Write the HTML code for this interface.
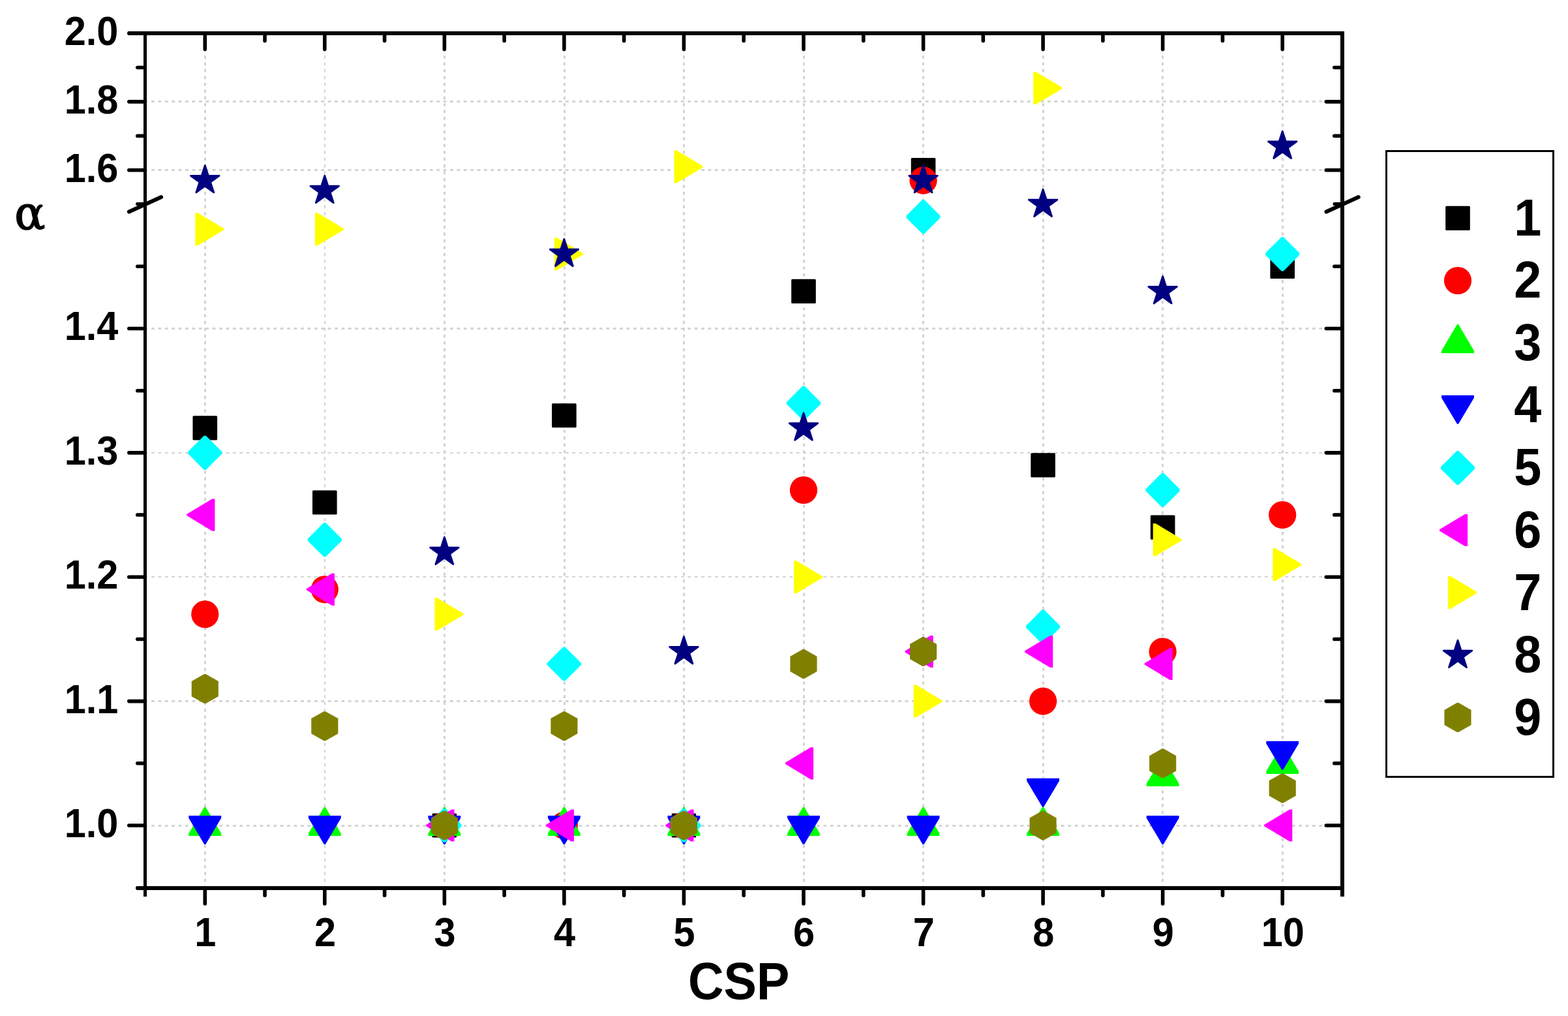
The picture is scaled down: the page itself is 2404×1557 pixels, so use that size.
<!DOCTYPE html>
<html lang="en">
<head>
<meta charset="utf-8">
<title>α vs CSP</title>
<style>
html,body{margin:0;padding:0;background:#fff;}
body{width:2404px;height:1557px;overflow:hidden;}
svg{display:block;}
</style>
</head>
<body>
<svg width="2404" height="1557" viewBox="0 0 2404 1557">
<rect x="0" y="0" width="2404" height="1557" fill="#fff"/>
<g stroke="#d3d3d3" fill="none">
<g stroke-dasharray="4.7 5.726">
<line x1="314.5" y1="85.2" x2="314.5" y2="1358" stroke-width="3"/>
<line x1="498" y1="85.2" x2="498" y2="1358" stroke-width="2"/>
<line x1="681.5" y1="85.2" x2="681.5" y2="1358" stroke-width="3"/>
<line x1="865.5" y1="85.2" x2="865.5" y2="1358" stroke-width="3"/>
<line x1="1048.5" y1="85.2" x2="1048.5" y2="1358" stroke-width="3"/>
<line x1="1232.5" y1="85.2" x2="1232.5" y2="1358" stroke-width="3"/>
<line x1="1415.5" y1="85.2" x2="1415.5" y2="1358" stroke-width="3"/>
<line x1="1599.5" y1="85.2" x2="1599.5" y2="1358" stroke-width="3"/>
<line x1="1782.5" y1="85.2" x2="1782.5" y2="1358" stroke-width="3"/>
<line x1="1966.5" y1="85.2" x2="1966.5" y2="1358" stroke-width="3"/>
</g>
<g stroke-dasharray="4.7 5.709">
<line x1="221.68" y1="1265.5" x2="2030" y2="1265.5" stroke-width="3"/>
<line x1="221.68" y1="1074.5" x2="2030" y2="1074.5" stroke-width="3"/>
<line x1="221.68" y1="884" x2="2030" y2="884" stroke-width="2"/>
<line x1="221.68" y1="694" x2="2030" y2="694" stroke-width="2"/>
<line x1="221.68" y1="503.5" x2="2030" y2="503.5" stroke-width="3"/>
<line x1="221.68" y1="260.5" x2="2030" y2="260.5" stroke-width="3"/>
<line x1="221.68" y1="155.5" x2="2030" y2="155.5" stroke-width="3"/>
</g>
</g>
<g>
<rect x="295.47" y="637.2" width="37.6" height="37.2" rx="1.5" fill="#000000"/>
<rect x="479.02" y="751.42" width="37.6" height="37.2" rx="1.5" fill="#000000"/>
<rect x="662.58" y="1246.4" width="37.6" height="37.2" rx="1.5" fill="#000000"/>
<rect x="846.12" y="618.16" width="37.6" height="37.2" rx="1.5" fill="#000000"/>
<rect x="1029.67" y="1246.4" width="37.6" height="37.2" rx="1.5" fill="#000000"/>
<rect x="1213.23" y="427.79" width="37.6" height="37.2" rx="1.5" fill="#000000"/>
<rect x="1396.78" y="242.1" width="37.6" height="37.2" rx="1.5" fill="#000000"/>
<rect x="1580.33" y="694.31" width="37.6" height="37.2" rx="1.5" fill="#000000"/>
<rect x="1763.88" y="789.5" width="37.6" height="37.2" rx="1.5" fill="#000000"/>
<rect x="1947.42" y="389.71" width="37.6" height="37.2" rx="1.5" fill="#000000"/>
<circle cx="314.27" cy="941.36" r="21.1" fill="#ff0000"/>
<circle cx="497.82" cy="903.29" r="21.1" fill="#ff0000"/>
<circle cx="681.38" cy="1265" r="21.1" fill="#ff0000"/>
<circle cx="864.92" cy="1265" r="21.1" fill="#ff0000"/>
<circle cx="1048.47" cy="1265" r="21.1" fill="#ff0000"/>
<circle cx="1232.03" cy="750.99" r="21.1" fill="#ff0000"/>
<circle cx="1415.58" cy="276.43" r="21.1" fill="#ff0000"/>
<circle cx="1599.12" cy="1074.62" r="21.1" fill="#ff0000"/>
<circle cx="1782.67" cy="998.48" r="21.1" fill="#ff0000"/>
<circle cx="1966.22" cy="789.06" r="21.1" fill="#ff0000"/>
<polygon points="313.27,1236.8 315.27,1236.8 339.17,1277.2 339.17,1281.1 289.38,1281.1 289.38,1277.2" fill="#00ff00"/>
<polygon points="496.82,1236.8 498.82,1236.8 522.73,1277.2 522.73,1281.1 472.93,1281.1 472.93,1277.2" fill="#00ff00"/>
<polygon points="680.38,1236.8 682.38,1236.8 706.27,1277.2 706.27,1281.1 656.48,1281.1 656.48,1277.2" fill="#00ff00"/>
<polygon points="863.92,1236.8 865.92,1236.8 889.82,1277.2 889.82,1281.1 840.02,1281.1 840.02,1277.2" fill="#00ff00"/>
<polygon points="1047.47,1236.8 1049.47,1236.8 1073.38,1277.2 1073.38,1281.1 1023.57,1281.1 1023.57,1277.2" fill="#00ff00"/>
<polygon points="1231.03,1236.8 1233.03,1236.8 1256.93,1277.2 1256.93,1281.1 1207.12,1281.1 1207.12,1277.2" fill="#00ff00"/>
<polygon points="1414.58,1236.8 1416.58,1236.8 1440.48,1277.2 1440.48,1281.1 1390.67,1281.1 1390.67,1277.2" fill="#00ff00"/>
<polygon points="1598.12,1236.8 1600.12,1236.8 1624.03,1277.2 1624.03,1281.1 1574.22,1281.1 1574.22,1277.2" fill="#00ff00"/>
<polygon points="1781.67,1160.65 1783.67,1160.65 1807.58,1201.05 1807.58,1204.95 1757.77,1204.95 1757.77,1201.05" fill="#00ff00"/>
<polygon points="1965.22,1141.61 1967.22,1141.61 1991.12,1182.01 1991.12,1185.91 1941.32,1185.91 1941.32,1182.01" fill="#00ff00"/>
<polygon points="313.27,1293.9 315.27,1293.9 339.17,1253.8 339.17,1249.9 289.38,1249.9 289.38,1253.8" fill="#0000ff"/>
<polygon points="496.82,1293.9 498.82,1293.9 522.73,1253.8 522.73,1249.9 472.93,1249.9 472.93,1253.8" fill="#0000ff"/>
<polygon points="680.38,1293.9 682.38,1293.9 706.27,1253.8 706.27,1249.9 656.48,1249.9 656.48,1253.8" fill="#0000ff"/>
<polygon points="863.92,1293.9 865.92,1293.9 889.82,1253.8 889.82,1249.9 840.02,1249.9 840.02,1253.8" fill="#0000ff"/>
<polygon points="1047.47,1293.9 1049.47,1293.9 1073.38,1253.8 1073.38,1249.9 1023.57,1249.9 1023.57,1253.8" fill="#0000ff"/>
<polygon points="1231.03,1293.9 1233.03,1293.9 1256.93,1253.8 1256.93,1249.9 1207.12,1249.9 1207.12,1253.8" fill="#0000ff"/>
<polygon points="1414.58,1293.9 1416.58,1293.9 1440.48,1253.8 1440.48,1249.9 1390.67,1249.9 1390.67,1253.8" fill="#0000ff"/>
<polygon points="1598.12,1236.79 1600.12,1236.79 1624.03,1196.69 1624.03,1192.79 1574.22,1192.79 1574.22,1196.69" fill="#0000ff"/>
<polygon points="1781.67,1293.9 1783.67,1293.9 1807.58,1253.8 1807.58,1249.9 1757.77,1249.9 1757.77,1253.8" fill="#0000ff"/>
<polygon points="1965.22,1179.67 1967.22,1179.67 1991.12,1139.57 1991.12,1135.67 1941.32,1135.67 1941.32,1139.57" fill="#0000ff"/>
<polygon points="312.77,667.77 315.77,667.77 340.38,692.37 340.38,695.37 315.77,719.97 312.77,719.97 288.17,695.37 288.17,692.37" fill="#00ffff"/>
<polygon points="496.32,801.04 499.32,801.04 523.92,825.64 523.92,828.64 499.32,853.24 496.32,853.24 471.72,828.64 471.72,825.64" fill="#00ffff"/>
<polygon points="679.88,1238.9 682.88,1238.9 707.48,1263.5 707.48,1266.5 682.88,1291.1 679.88,1291.1 655.27,1266.5 655.27,1263.5" fill="#00ffff"/>
<polygon points="863.42,991.41 866.42,991.41 891.02,1016.01 891.02,1019.01 866.42,1043.61 863.42,1043.61 838.82,1019.01 838.82,1016.01" fill="#00ffff"/>
<polygon points="1046.97,1238.9 1049.97,1238.9 1074.57,1263.5 1074.57,1266.5 1049.97,1291.1 1046.97,1291.1 1022.37,1266.5 1022.37,1263.5" fill="#00ffff"/>
<polygon points="1230.53,591.62 1233.53,591.62 1258.12,616.22 1258.12,619.22 1233.53,643.82 1230.53,643.82 1205.93,619.22 1205.93,616.22" fill="#00ffff"/>
<polygon points="1414.08,306.06 1417.08,306.06 1441.67,330.66 1441.67,333.66 1417.08,358.26 1414.08,358.26 1389.48,333.66 1389.48,330.66" fill="#00ffff"/>
<polygon points="1597.62,934.3 1600.62,934.3 1625.22,958.9 1625.22,961.9 1600.62,986.5 1597.62,986.5 1573.03,961.9 1573.03,958.9" fill="#00ffff"/>
<polygon points="1781.17,724.89 1784.17,724.89 1808.77,749.49 1808.77,752.49 1784.17,777.09 1781.17,777.09 1756.58,752.49 1756.58,749.49" fill="#00ffff"/>
<polygon points="1964.72,363.18 1967.72,363.18 1992.32,387.78 1992.32,390.78 1967.72,415.38 1964.72,415.38 1940.12,390.78 1940.12,387.78" fill="#00ffff"/>
<polygon points="286.17,788.06 286.17,790.06 325.27,813.66 329.38,813.66 329.38,764.46 325.27,764.46" fill="#ff00ff"/>
<polygon points="469.72,902.29 469.72,904.29 508.82,927.89 512.92,927.89 512.92,878.69 508.82,878.69" fill="#ff00ff"/>
<polygon points="653.27,1264 653.27,1266 692.38,1289.6 696.48,1289.6 696.48,1240.4 692.38,1240.4" fill="#ff00ff"/>
<polygon points="836.82,1264 836.82,1266 875.92,1289.6 880.02,1289.6 880.02,1240.4 875.92,1240.4" fill="#ff00ff"/>
<polygon points="1020.37,1264 1020.37,1266 1059.47,1289.6 1063.57,1289.6 1063.57,1240.4 1059.47,1240.4" fill="#ff00ff"/>
<polygon points="1203.93,1168.81 1203.93,1170.81 1243.03,1194.41 1247.12,1194.41 1247.12,1145.21 1243.03,1145.21" fill="#ff00ff"/>
<polygon points="1387.48,997.48 1387.48,999.48 1426.58,1023.08 1430.67,1023.08 1430.67,973.88 1426.58,973.88" fill="#ff00ff"/>
<polygon points="1571.03,997.48 1571.03,999.48 1610.12,1023.08 1614.22,1023.08 1614.22,973.88 1610.12,973.88" fill="#ff00ff"/>
<polygon points="1754.58,1016.51 1754.58,1018.51 1793.67,1042.11 1797.77,1042.11 1797.77,992.91 1793.67,992.91" fill="#ff00ff"/>
<polygon points="1938.12,1264 1938.12,1266 1977.22,1289.6 1981.32,1289.6 1981.32,1240.4 1977.22,1240.4" fill="#ff00ff"/>
<polygon points="343.47,350.2 343.47,352.2 303.27,376.2 299.38,376.2 299.38,326.2 303.27,326.2" fill="#ffff00"/>
<polygon points="527.02,350.2 527.02,352.2 486.82,376.2 482.93,376.2 482.93,326.2 486.82,326.2" fill="#ffff00"/>
<polygon points="710.58,940.36 710.58,942.36 670.38,966.36 666.48,966.36 666.48,916.36 670.38,916.36" fill="#ffff00"/>
<polygon points="894.12,388.28 894.12,390.28 853.92,414.28 850.02,414.28 850.02,364.28 853.92,364.28" fill="#ffff00"/>
<polygon points="1077.67,254.46 1077.67,256.46 1037.47,280.46 1033.57,280.46 1033.57,230.46 1037.47,230.46" fill="#ffff00"/>
<polygon points="1261.23,883.25 1261.23,885.25 1221.03,909.25 1217.12,909.25 1217.12,859.25 1221.03,859.25" fill="#ffff00"/>
<polygon points="1444.78,1073.62 1444.78,1075.62 1404.58,1099.62 1400.67,1099.62 1400.67,1049.62 1404.58,1049.62" fill="#ffff00"/>
<polygon points="1628.33,133.88 1628.33,135.88 1588.12,159.88 1584.22,159.88 1584.22,109.88 1588.12,109.88" fill="#ffff00"/>
<polygon points="1811.88,826.14 1811.88,828.14 1771.67,852.14 1767.77,852.14 1767.77,802.14 1771.67,802.14" fill="#ffff00"/>
<polygon points="1995.42,864.21 1995.42,866.21 1955.22,890.21 1951.32,890.21 1951.32,840.21 1955.22,840.21" fill="#ffff00"/>
<polygon points="314.27,253.53 319.42,269.35 336.05,269.35 322.6,279.13 327.74,294.95 314.27,285.18 300.81,294.95 305.95,279.13 292.5,269.35 309.13,269.35" fill="#000080" stroke="#000080" stroke-width="2.8" stroke-linejoin="round"/>
<polygon points="497.82,269.25 502.97,285.08 519.6,285.08 506.15,294.86 511.29,310.68 497.82,300.9 484.36,310.68 489.5,294.86 476.05,285.08 492.68,285.08" fill="#000080" stroke="#000080" stroke-width="2.8" stroke-linejoin="round"/>
<polygon points="681.38,823.28 686.52,839.1 703.15,839.1 689.7,848.88 694.84,864.7 681.38,854.93 667.91,864.7 673.05,848.88 659.6,839.1 676.23,839.1" fill="#000080" stroke="#000080" stroke-width="2.8" stroke-linejoin="round"/>
<polygon points="864.92,366.38 870.07,382.2 886.7,382.2 873.25,391.98 878.39,407.8 864.92,398.03 851.46,407.8 856.6,391.98 843.15,382.2 859.78,382.2" fill="#000080" stroke="#000080" stroke-width="2.8" stroke-linejoin="round"/>
<polygon points="1048.47,975.58 1053.62,991.4 1070.25,991.4 1056.8,1001.18 1061.94,1017 1048.47,1007.23 1035.01,1017 1040.15,1001.18 1026.7,991.4 1043.33,991.4" fill="#000080" stroke="#000080" stroke-width="2.8" stroke-linejoin="round"/>
<polygon points="1232.03,632.9 1237.17,648.72 1253.8,648.72 1240.35,658.5 1245.49,674.33 1232.03,664.55 1218.56,674.33 1223.7,658.5 1210.25,648.72 1226.88,648.72" fill="#000080" stroke="#000080" stroke-width="2.8" stroke-linejoin="round"/>
<polygon points="1415.58,253.53 1420.72,269.35 1437.35,269.35 1423.9,279.13 1429.04,294.95 1415.58,285.18 1402.11,294.95 1407.25,279.13 1393.8,269.35 1410.43,269.35" fill="#000080" stroke="#000080" stroke-width="2.8" stroke-linejoin="round"/>
<polygon points="1599.12,290.23 1604.27,306.05 1620.9,306.05 1607.45,315.83 1612.59,331.65 1599.12,321.88 1585.66,331.65 1590.8,315.83 1577.35,306.05 1593.98,306.05" fill="#000080" stroke="#000080" stroke-width="2.8" stroke-linejoin="round"/>
<polygon points="1782.67,423.49 1787.82,439.31 1804.45,439.31 1791,449.09 1796.14,464.91 1782.67,455.14 1769.21,464.91 1774.35,449.09 1760.9,439.31 1777.53,439.31" fill="#000080" stroke="#000080" stroke-width="2.8" stroke-linejoin="round"/>
<polygon points="1966.22,201.1 1971.37,216.92 1988,216.93 1974.55,226.71 1979.69,242.53 1966.22,232.75 1952.76,242.53 1957.9,226.71 1944.45,216.93 1961.08,216.92" fill="#000080" stroke="#000080" stroke-width="2.8" stroke-linejoin="round"/>
<polygon points="313.07,1033.09 315.47,1033.09 334.82,1043.99 334.82,1067.19 315.47,1078.09 313.07,1078.09 293.72,1067.19 293.72,1043.99" fill="#808000"/>
<polygon points="496.62,1090.2 499.02,1090.2 518.38,1101.1 518.38,1124.3 499.02,1135.2 496.62,1135.2 477.27,1124.3 477.27,1101.1" fill="#808000"/>
<polygon points="680.17,1242.5 682.58,1242.5 701.92,1253.4 701.92,1276.6 682.58,1287.5 680.17,1287.5 660.83,1276.6 660.83,1253.4" fill="#808000"/>
<polygon points="863.72,1090.2 866.12,1090.2 885.47,1101.1 885.47,1124.3 866.12,1135.2 863.72,1135.2 844.38,1124.3 844.38,1101.1" fill="#808000"/>
<polygon points="1047.27,1242.5 1049.67,1242.5 1069.02,1253.4 1069.02,1276.6 1049.67,1287.5 1047.27,1287.5 1027.92,1276.6 1027.92,1253.4" fill="#808000"/>
<polygon points="1230.83,995.01 1233.23,995.01 1252.58,1005.91 1252.58,1029.11 1233.23,1040.01 1230.83,1040.01 1211.48,1029.11 1211.48,1005.91" fill="#808000"/>
<polygon points="1414.38,975.98 1416.78,975.98 1436.12,986.88 1436.12,1010.08 1416.78,1020.98 1414.38,1020.98 1395.03,1010.08 1395.03,986.88" fill="#808000"/>
<polygon points="1597.92,1242.5 1600.33,1242.5 1619.67,1253.4 1619.67,1276.6 1600.33,1287.5 1597.92,1287.5 1578.58,1276.6 1578.58,1253.4" fill="#808000"/>
<polygon points="1781.47,1147.31 1783.88,1147.31 1803.22,1158.21 1803.22,1181.41 1783.88,1192.31 1781.47,1192.31 1762.12,1181.41 1762.12,1158.21" fill="#808000"/>
<polygon points="1965.02,1185.39 1967.42,1185.39 1986.77,1196.29 1986.77,1219.49 1967.42,1230.39 1965.02,1230.39 1945.67,1219.49 1945.67,1196.29" fill="#808000"/>
</g>
<g fill="#000">
<rect x="220" y="48" width="5" height="1326"/>
<rect x="2055" y="48" width="6" height="1326"/>
<rect x="196" y="48" width="1865" height="6"/>
<rect x="209" y="1358" width="1852" height="6"/>
</g>
<g stroke="#000" stroke-linecap="round" fill="none">
<line x1="314.27" y1="54" x2="314.27" y2="75.6" stroke-width="5.6"/>
<line x1="314.27" y1="1364" x2="314.27" y2="1385" stroke-width="5.6"/>
<line x1="497.82" y1="54" x2="497.82" y2="75.6" stroke-width="5.6"/>
<line x1="497.82" y1="1364" x2="497.82" y2="1385" stroke-width="5.6"/>
<line x1="681.38" y1="54" x2="681.38" y2="75.6" stroke-width="5.6"/>
<line x1="681.38" y1="1364" x2="681.38" y2="1385" stroke-width="5.6"/>
<line x1="864.92" y1="54" x2="864.92" y2="75.6" stroke-width="5.6"/>
<line x1="864.92" y1="1364" x2="864.92" y2="1385" stroke-width="5.6"/>
<line x1="1048.47" y1="54" x2="1048.47" y2="75.6" stroke-width="5.6"/>
<line x1="1048.47" y1="1364" x2="1048.47" y2="1385" stroke-width="5.6"/>
<line x1="1232.03" y1="54" x2="1232.03" y2="75.6" stroke-width="5.6"/>
<line x1="1232.03" y1="1364" x2="1232.03" y2="1385" stroke-width="5.6"/>
<line x1="1415.58" y1="54" x2="1415.58" y2="75.6" stroke-width="5.6"/>
<line x1="1415.58" y1="1364" x2="1415.58" y2="1385" stroke-width="5.6"/>
<line x1="1599.12" y1="54" x2="1599.12" y2="75.6" stroke-width="5.6"/>
<line x1="1599.12" y1="1364" x2="1599.12" y2="1385" stroke-width="5.6"/>
<line x1="1782.67" y1="54" x2="1782.67" y2="75.6" stroke-width="5.6"/>
<line x1="1782.67" y1="1364" x2="1782.67" y2="1385" stroke-width="5.6"/>
<line x1="1966.22" y1="54" x2="1966.22" y2="75.6" stroke-width="5.6"/>
<line x1="1966.22" y1="1364" x2="1966.22" y2="1385" stroke-width="5.6"/>
<line x1="406.05" y1="54" x2="406.05" y2="62.4" stroke-width="5.6"/>
<line x1="406.05" y1="1364" x2="406.05" y2="1372.2" stroke-width="5.6"/>
<line x1="589.6" y1="54" x2="589.6" y2="62.4" stroke-width="5.6"/>
<line x1="589.6" y1="1364" x2="589.6" y2="1372.2" stroke-width="5.6"/>
<line x1="773.15" y1="54" x2="773.15" y2="62.4" stroke-width="5.6"/>
<line x1="773.15" y1="1364" x2="773.15" y2="1372.2" stroke-width="5.6"/>
<line x1="956.7" y1="54" x2="956.7" y2="62.4" stroke-width="5.6"/>
<line x1="956.7" y1="1364" x2="956.7" y2="1372.2" stroke-width="5.6"/>
<line x1="1140.25" y1="54" x2="1140.25" y2="62.4" stroke-width="5.6"/>
<line x1="1140.25" y1="1364" x2="1140.25" y2="1372.2" stroke-width="5.6"/>
<line x1="1323.8" y1="54" x2="1323.8" y2="62.4" stroke-width="5.6"/>
<line x1="1323.8" y1="1364" x2="1323.8" y2="1372.2" stroke-width="5.6"/>
<line x1="1507.35" y1="54" x2="1507.35" y2="62.4" stroke-width="5.6"/>
<line x1="1507.35" y1="1364" x2="1507.35" y2="1372.2" stroke-width="5.6"/>
<line x1="1690.9" y1="54" x2="1690.9" y2="62.4" stroke-width="5.6"/>
<line x1="1690.9" y1="1364" x2="1690.9" y2="1372.2" stroke-width="5.6"/>
<line x1="1874.45" y1="54" x2="1874.45" y2="62.4" stroke-width="5.6"/>
<line x1="1874.45" y1="1364" x2="1874.45" y2="1372.2" stroke-width="5.6"/>
<line x1="197.8" y1="1265" x2="221" y2="1265" stroke-width="5.6"/>
<line x1="2033.3" y1="1265" x2="2056" y2="1265" stroke-width="5.6"/>
<line x1="197.8" y1="1074.62" x2="221" y2="1074.62" stroke-width="5.6"/>
<line x1="2033.3" y1="1074.62" x2="2056" y2="1074.62" stroke-width="5.6"/>
<line x1="197.8" y1="884.25" x2="221" y2="884.25" stroke-width="5.6"/>
<line x1="2033.3" y1="884.25" x2="2056" y2="884.25" stroke-width="5.6"/>
<line x1="197.8" y1="693.87" x2="221" y2="693.87" stroke-width="5.6"/>
<line x1="2033.3" y1="693.87" x2="2056" y2="693.87" stroke-width="5.6"/>
<line x1="197.8" y1="503.5" x2="221" y2="503.5" stroke-width="5.6"/>
<line x1="2033.3" y1="503.5" x2="2056" y2="503.5" stroke-width="5.6"/>
<line x1="197.8" y1="260.7" x2="221" y2="260.7" stroke-width="5.6"/>
<line x1="2033.3" y1="260.7" x2="2056" y2="260.7" stroke-width="5.6"/>
<line x1="197.8" y1="155.85" x2="221" y2="155.85" stroke-width="5.6"/>
<line x1="2033.3" y1="155.85" x2="2056" y2="155.85" stroke-width="5.6"/>
<line x1="197.8" y1="51" x2="221" y2="51" stroke-width="5.6"/>
<line x1="210.8" y1="1361" x2="221" y2="1361" stroke-width="5.6"/>
<line x1="210.8" y1="1169.81" x2="221" y2="1169.81" stroke-width="5.6"/>
<line x1="2045.8" y1="1169.81" x2="2056" y2="1169.81" stroke-width="5.6"/>
<line x1="210.8" y1="979.44" x2="221" y2="979.44" stroke-width="5.6"/>
<line x1="2045.8" y1="979.44" x2="2056" y2="979.44" stroke-width="5.6"/>
<line x1="210.8" y1="789.06" x2="221" y2="789.06" stroke-width="5.6"/>
<line x1="2045.8" y1="789.06" x2="2056" y2="789.06" stroke-width="5.6"/>
<line x1="210.8" y1="598.69" x2="221" y2="598.69" stroke-width="5.6"/>
<line x1="2045.8" y1="598.69" x2="2056" y2="598.69" stroke-width="5.6"/>
<line x1="210.8" y1="408.31" x2="221" y2="408.31" stroke-width="5.6"/>
<line x1="2045.8" y1="408.31" x2="2056" y2="408.31" stroke-width="5.6"/>
<line x1="210.8" y1="208.28" x2="221" y2="208.28" stroke-width="5.6"/>
<line x1="2045.8" y1="208.28" x2="2056" y2="208.28" stroke-width="5.6"/>
<line x1="210.8" y1="103.43" x2="221" y2="103.43" stroke-width="5.6"/>
<line x1="2045.8" y1="103.43" x2="2056" y2="103.43" stroke-width="5.6"/>
<line x1="210.5" y1="312.6" x2="221" y2="312.6" stroke-width="5"/>
<line x1="2046" y1="312.6" x2="2056" y2="312.6" stroke-width="5"/>
<line x1="197.9" y1="324.4" x2="247.1" y2="302.1" stroke-width="6"/>
<line x1="2033.5" y1="324.4" x2="2082.7" y2="302.1" stroke-width="6"/>
</g>
<g font-family="'Liberation Sans', Arial, Helvetica, sans-serif" font-weight="bold" fill="#000">
<text transform="translate(181.4 1282.9) scale(0.937 1)" font-size="63.5" text-anchor="end">1.0</text>
<text transform="translate(181.4 1092.52) scale(0.937 1)" font-size="63.5" text-anchor="end">1.1</text>
<text transform="translate(181.4 902.15) scale(0.937 1)" font-size="63.5" text-anchor="end">1.2</text>
<text transform="translate(181.4 711.77) scale(0.937 1)" font-size="63.5" text-anchor="end">1.3</text>
<text transform="translate(181.4 521.4) scale(0.937 1)" font-size="63.5" text-anchor="end">1.4</text>
<text transform="translate(181.4 278.6) scale(0.937 1)" font-size="63.5" text-anchor="end">1.6</text>
<text transform="translate(181.4 173.75) scale(0.937 1)" font-size="63.5" text-anchor="end">1.8</text>
<text transform="translate(181.4 68.9) scale(0.937 1)" font-size="63.5" text-anchor="end">2.0</text>
<text transform="translate(314.88 1449.9) scale(0.937 1)" font-size="63.5" text-anchor="middle">1</text>
<text transform="translate(498.43 1449.9) scale(0.937 1)" font-size="63.5" text-anchor="middle">2</text>
<text transform="translate(681.98 1449.9) scale(0.937 1)" font-size="63.5" text-anchor="middle">3</text>
<text transform="translate(865.52 1449.9) scale(0.937 1)" font-size="63.5" text-anchor="middle">4</text>
<text transform="translate(1049.07 1449.9) scale(0.937 1)" font-size="63.5" text-anchor="middle">5</text>
<text transform="translate(1232.62 1449.9) scale(0.937 1)" font-size="63.5" text-anchor="middle">6</text>
<text transform="translate(1416.17 1449.9) scale(0.937 1)" font-size="63.5" text-anchor="middle">7</text>
<text transform="translate(1599.72 1449.9) scale(0.937 1)" font-size="63.5" text-anchor="middle">8</text>
<text transform="translate(1783.27 1449.9) scale(0.937 1)" font-size="63.5" text-anchor="middle">9</text>
<text transform="translate(1966.82 1449.9) scale(0.937 1)" font-size="63.5" text-anchor="middle">10</text>
<text transform="translate(1055 1530.8) scale(0.957 1)" font-size="79" text-anchor="start">CSP</text>
<text transform="translate(2321.2 360.9) scale(0.957 1)" font-size="79" text-anchor="start">1</text>
<text transform="translate(2321.2 455.9) scale(0.957 1)" font-size="79" text-anchor="start">2</text>
<text transform="translate(2321.2 552.3) scale(0.957 1)" font-size="79" text-anchor="start">3</text>
<text transform="translate(2321.2 646.8) scale(0.957 1)" font-size="79" text-anchor="start">4</text>
<text transform="translate(2321.2 743.1) scale(0.957 1)" font-size="79" text-anchor="start">5</text>
<text transform="translate(2321.2 839.2) scale(0.957 1)" font-size="79" text-anchor="start">6</text>
<text transform="translate(2321.2 935) scale(0.957 1)" font-size="79" text-anchor="start">7</text>
<text transform="translate(2321.2 1030.2) scale(0.957 1)" font-size="79" text-anchor="start">8</text>
<text transform="translate(2321.2 1126.2) scale(0.957 1)" font-size="79" text-anchor="start">9</text>
</g>
<text transform="translate(22.3 351.0) scale(0.985 1)" font-family="'DejaVu Serif', 'Liberation Serif', serif" font-size="71" fill="#000" stroke="#000" stroke-width="1.5" stroke-linejoin="round">α</text>
<rect x="2125.5" y="231.5" width="256" height="959" fill="none" stroke="#000" stroke-width="3"/>
<rect x="2216.2" y="315.8" width="37.6" height="37.2" rx="1.5" fill="#000000"/>
<circle cx="2235" cy="430" r="21.1" fill="#ff0000"/>
<polygon points="2234,497 2236,497 2259.9,537.4 2259.9,541.3 2210.1,541.3 2210.1,537.4" fill="#00ff00"/>
<polygon points="2234,649.8 2236,649.8 2259.9,609.7 2259.9,605.8 2210.1,605.8 2210.1,609.7" fill="#0000ff"/>
<polygon points="2233.5,690.9 2236.5,690.9 2261.1,715.5 2261.1,718.5 2236.5,743.1 2233.5,743.1 2208.9,718.5 2208.9,715.5" fill="#00ffff"/>
<polygon points="2206.9,811.5 2206.9,813.5 2246,837.1 2250.1,837.1 2250.1,787.9 2246,787.9" fill="#ff00ff"/>
<polygon points="2264.2,906.9 2264.2,908.9 2224,932.9 2220.1,932.9 2220.1,882.9 2224,882.9" fill="#ffff00"/>
<polygon points="2235,981.3 2240.14,997.12 2256.78,997.12 2243.32,1006.9 2248.46,1022.73 2235,1012.95 2221.54,1022.73 2226.68,1006.9 2213.22,997.12 2229.86,997.12" fill="#000080" stroke="#000080" stroke-width="2.8" stroke-linejoin="round"/>
<polygon points="2233.8,1077 2236.2,1077 2255.55,1087.9 2255.55,1111.1 2236.2,1122 2233.8,1122 2214.45,1111.1 2214.45,1087.9" fill="#808000"/>
</svg>
</body>
</html>
